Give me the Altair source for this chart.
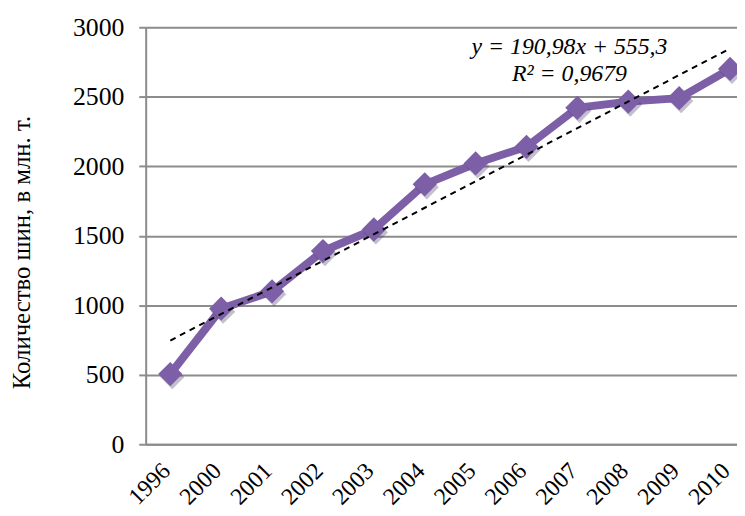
import altair as alt
import pandas as pd

years = ["1996", "2000", "2001", "2002", "2003", "2004", "2005", "2006", "2007", "2008", "2009", "2010"]
values = [505, 975, 1100, 1390, 1545, 1870, 2020, 2140, 2420, 2465, 2490, 2700]

# Trend line from the equation shown on the chart: y = 190.98x + 555.3 (x = 1..12)
slope = 190.98
intercept = 555.3
trend_years = [years[0], years[-1]]
trend_values = [slope * 1 + intercept, slope * 12 + intercept]

eq_lines = ["y = 190,98x + 555,3", "R² = 0,9679"]
eq_year = ["2007", "2007"]
eq_values = [2860, 2660]

FONT = "Liberation Serif"
PURPLE = "#7D5FA7"

df = pd.DataFrame({"year": years, "value": values})
df_trend = pd.DataFrame({"year": trend_years, "value": trend_values})
df_eq = pd.DataFrame({"year": eq_year, "value": eq_values, "label": eq_lines})

xscale = alt.Scale(type="point", domain=years, padding=0.31, align=0.78)
yscale = alt.Scale(domain=[0, 3000])

x_enc = alt.X(
    "year:O",
    scale=xscale,
    sort=years,
    axis=alt.Axis(
        title=None,
        labelAngle=-45,
        labelFont=FONT,
        labelFontSize=24,
        labelColor="#000000",
        labelPadding=23,
        labelOffset=-4,
        ticks=False,
        domainColor="#8c8c8c",
        domainWidth=2,
        grid=False,
        labelAlign="right",
        labelBaseline="middle",
    ),
)
y_enc = alt.Y(
    "value:Q",
    scale=yscale,
    axis=alt.Axis(
        title="Количество шин, в млн. т.",
        titleFont=FONT,
        titleFontSize=25,
        titleFontWeight="normal",
        titleColor="#000000",
        titleX=-125,
        titleY=227,
        titleBaseline="middle",
        titleAlign="center",
        values=[0, 500, 1000, 1500, 2000, 2500, 3000],
        format="d",
        labelFont=FONT,
        labelFontSize=26,
        labelColor="#000000",
        labelPadding=15,
        tickSize=7,
        tickColor="#8c8c8c",
        tickWidth=2,
        domainColor="#8c8c8c",
        domainWidth=2,
        gridColor="#8c8c8c",
        gridWidth=2,
    ),
)

base = alt.Chart(df)

line = base.mark_line(color=PURPLE, strokeWidth=8).encode(x=x_enc, y=y_enc)
shadow = base.mark_point(
    shape="diamond", filled=True, size=600, color="#3a2a55", opacity=0.3, xOffset=2, yOffset=3
).encode(x=alt.X("year:O", scale=xscale, sort=years), y=alt.Y("value:Q", scale=yscale))
points = base.mark_point(
    shape="diamond", filled=True, size=600, color=PURPLE, opacity=1
).encode(x=alt.X("year:O", scale=xscale, sort=years), y=alt.Y("value:Q", scale=yscale))

trend = alt.Chart(df_trend).mark_line(
    color="#000000", strokeWidth=2, strokeDash=[6, 5]
).encode(x=alt.X("year:O", scale=xscale, sort=years), y=alt.Y("value:Q", scale=yscale))

eq = alt.Chart(df_eq).mark_text(
    font=FONT, fontSize=24, fontStyle="italic", color="#000000", dx=-8, align="center", baseline="middle"
).encode(x=alt.X("year:O", scale=xscale, sort=years), y=alt.Y("value:Q", scale=yscale), text="label:N")

chart = (
    alt.layer(line, shadow, points, trend, eq)
    .properties(
        width=597,
        height=421,
        autosize=alt.AutoSizeParams(type="none"),
        padding={"left": 139, "top": 17, "right": 0, "bottom": 70},
    )
    .configure_view(stroke=None)
    .configure(background="#ffffff")
)

chart.save("out.html", embed_options={"renderer": "svg", "actions": False})
